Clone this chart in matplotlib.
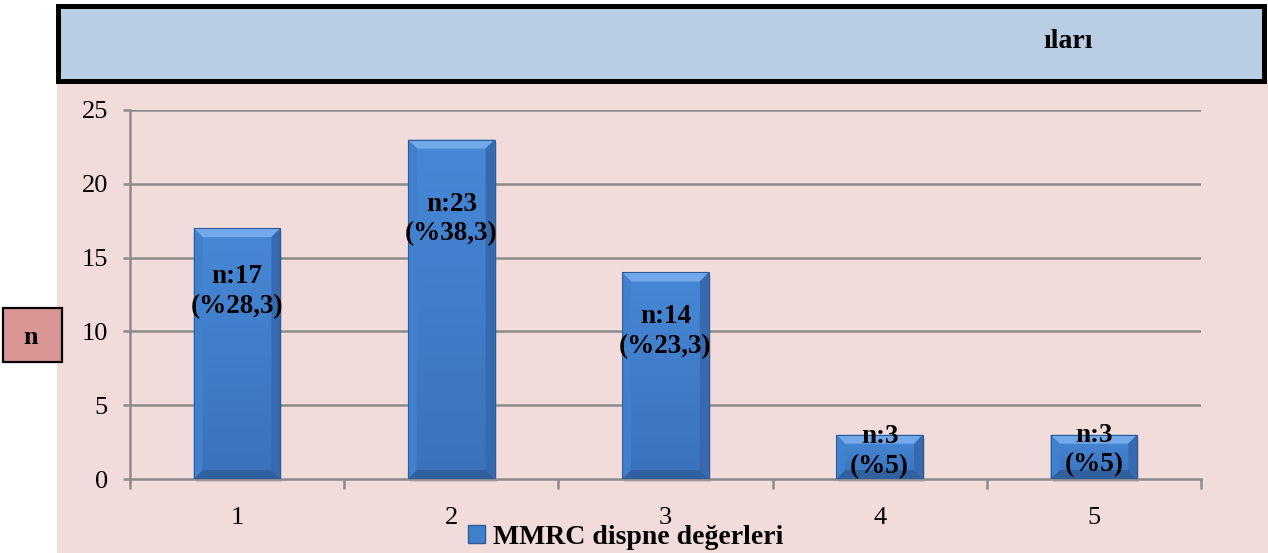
import numpy as np
import matplotlib
matplotlib.use('Agg')
import matplotlib.pyplot as plt
from matplotlib.patches import Rectangle, Polygon
from matplotlib.colors import LinearSegmentedColormap

plt.rcParams['font.family'] = ['Liberation Serif', 'DejaVu Serif']

# MMRC dispne değerleri (n = 60)
categories = ['1', '2', '3', '4', '5']
counts = [17, 23, 14, 3, 3]
percents = ['28,3', '38,3', '23,3', '5', '5']
label_y = [12.7, 17.6, 10.0, 1.85, 1.95]   # where the value labels sit (data units)

W, H = 1268, 553
fig = plt.figure(figsize=(W / 100, H / 100), dpi=100)

# pink plot area and blue title box
fig.patches.append(Rectangle((57 / W, 0), 1 - 57 / W, 1 - 80 / H, transform=fig.transFigure,
                             facecolor='#F2DCDB', edgecolor='none', zorder=-3))
fig.patches.append(Rectangle((58 / W, 1 - 81 / H), 1206 / W, 75 / H, transform=fig.transFigure,
                             facecolor='#B9CDE5', edgecolor='black', linewidth=3.6, zorder=-2))
fig.text(1043 / W, 1 - 42 / H, 'ıları', fontsize=20, fontweight='bold',
         ha='left', va='center')

# "n" axis caption box
fig.patches.append(Rectangle((3 / W, 1 - 362 / H), 59 / W, 54 / H, transform=fig.transFigure,
                             facecolor='#D99694', edgecolor='black', linewidth=1.6, zorder=-2))
fig.text(31 / W, 1 - 337 / H, 'n', fontsize=19, fontweight='bold', ha='center', va='center')

ax = fig.add_axes([130 / W, 1 - 479 / H, 1071 / W, 369 / H])
ax.set_facecolor('none')
ax.set_xlim(0, 5)
ax.set_ylim(0, 25)

x = np.arange(len(categories)) + 0.5
bw = 0.405

grid_c = '#8C8C8C'
for yv in range(5, 26, 5):
    ax.axhline(yv, color=grid_c, lw=1.8, zorder=1)
for s in ['top', 'right']:
    ax.spines[s].set_visible(False)
for s in ['left', 'bottom']:
    ax.spines[s].set_color(grid_c)
    ax.spines[s].set_linewidth(1.8)

ax.set_yticks(range(0, 26, 5))
ax.tick_params(axis='y', length=5, width=1.8, color=grid_c, labelsize=19, pad=11)
ax.set_xticks(x)
ax.set_xticklabels(categories)
ax.set_xticks(np.arange(0, 6), minor=True)
ax.tick_params(axis='x', which='major', length=0, labelsize=19, pad=20)
ax.tick_params(axis='x', which='minor', length=7, width=1.8, color=grid_c)

bars = ax.bar(x, counts, width=bw, color='none', edgecolor='none', zorder=3)

# bevelled gradient bars
grad = LinearSegmentedColormap.from_list('face', ['#3B72BC', '#4788D6'])
px_x = 1071 / 5      # pixels per data unit (x)
px_y = 369 / 25      # pixels per data unit (y)
bx, by = 9 / px_x, 9 / px_y
for b in bars:
    x0, w, h = b.get_x(), b.get_width(), b.get_height()
    x1 = x0 + w
    # soft shadow
    ax.add_patch(Rectangle((x0 + 2 / px_x, -3 / px_y), w, h, facecolor='#000000',
                           alpha=0.12, edgecolor='none', zorder=2, clip_on=False))
    img = ax.imshow(np.linspace(0, 1, 50).reshape(-1, 1), cmap=grad, aspect='auto',
                    extent=(x0, x1, 0, h), origin='lower', zorder=3)
    body = Rectangle((x0, 0), w, h, transform=ax.transData)
    img.set_clip_path(body)
    bb = min(by, h / 2)
    ax.add_patch(Polygon([(x0, h), (x1, h), (x1 - bx, h - bb), (x0 + bx, h - bb)],
                         facecolor='#72A9EA', edgecolor='none', zorder=4))
    ax.add_patch(Polygon([(x0, 0), (x1, 0), (x1 - bx, bb), (x0 + bx, bb)],
                         facecolor='#30609F', edgecolor='none', zorder=4))
    ax.add_patch(Polygon([(x0, 0), (x0, h), (x0 + bx, h - bb), (x0 + bx, bb)],
                         facecolor='#4180CC', edgecolor='none', zorder=4))
    ax.add_patch(Polygon([(x1, 0), (x1, h), (x1 - bx, h - bb), (x1 - bx, bb)],
                         facecolor='#3669AD', edgecolor='none', zorder=4))
    ax.add_patch(Rectangle((x0, 0), w, h, facecolor='none', edgecolor='#2E5C99',
                           lw=0.8, zorder=5))

for xi, n, p, ly in zip(x, counts, percents, label_y):
    ax.text(xi, ly, f'n:{n}\n(%{p})', ha='center', va='center', fontsize=19.5,
            fontweight='bold', linespacing=1.25, zorder=6)

# legend
leg_handle = Rectangle((0, 0), 1, 1, facecolor='#4180CC', edgecolor='#2E5C99')
fig.legend([leg_handle], ['MMRC dispne değerleri'], loc='center',
           bbox_to_anchor=(626 / W, 1 - 537 / H), frameon=False,
           prop={'size': 20, 'weight': 'bold'}, handlelength=0.6, handleheight=0.6,
           handletextpad=0.3)

fig.savefig('out.png', dpi=100)
